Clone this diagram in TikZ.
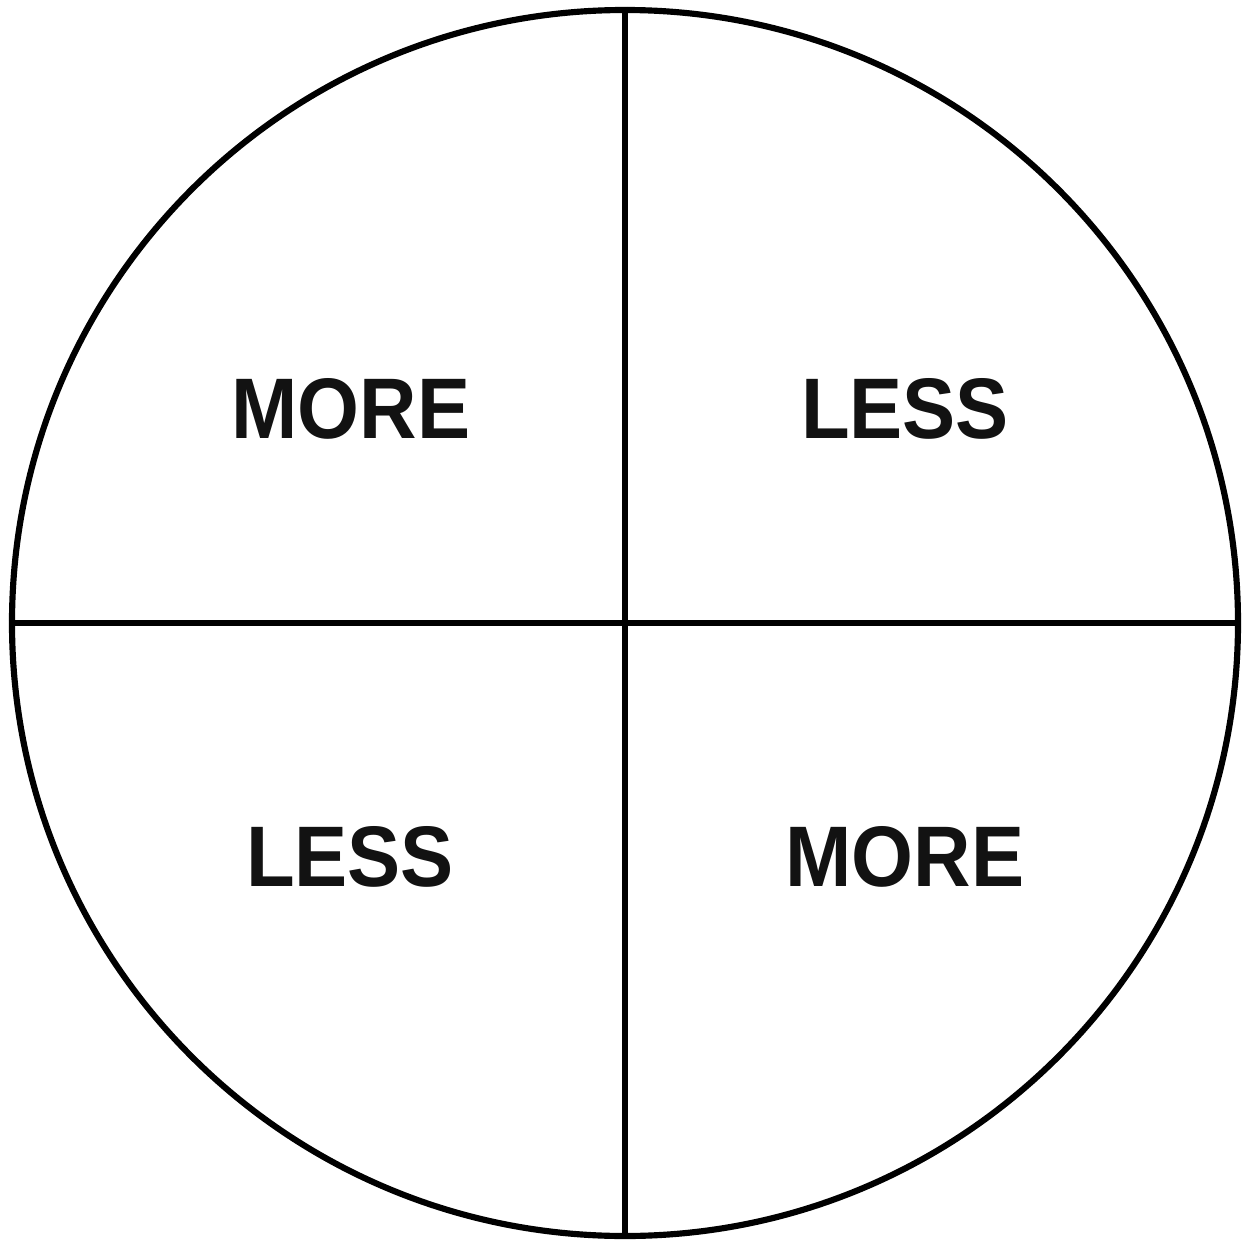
\documentclass[tikz,border=0pt]{standalone}
\usepackage{fontspec}
\setmainfont{Liberation Sans}
\usepackage{xcolor}
\usepackage{tikz}
\usetikzlibrary{positioning,calc}

\tikzset{
  quadlabel/.style={inner sep=0pt,text=black!93,font=\fontsize{45.3}{48}\selectfont\bfseries},
}
\newcommand{\tallword}[1]{\scalebox{1}[1.08]{#1}}

\begin{document}
\begin{tikzpicture}[x=1cm,y=1cm]
  \useasboundingbox (-12.5,-12.36) rectangle (12.42,12.46);
  \node[draw,circle,line width=3.5pt,minimum size=24.52cm,inner sep=0pt] (disc) at (0,0) {};

  \draw[line width=3.5pt] (disc.north) -- (disc.south);
  \draw[line width=3.5pt] (disc.west) -- (disc.east);

  \node[quadlabel] (moreTL) at (-5.48,4.29) {\tallword{MORE}};
  \node[quadlabel] (lessTR) at (5.6,4.29) {\tallword{LESS}};
  \node[quadlabel] (lessBL) at (-5.5,-4.68) {\tallword{LESS}};
  \node[quadlabel] (moreBR) at (5.6,-4.68) {\tallword{MORE}};
\end{tikzpicture}
\end{document}
